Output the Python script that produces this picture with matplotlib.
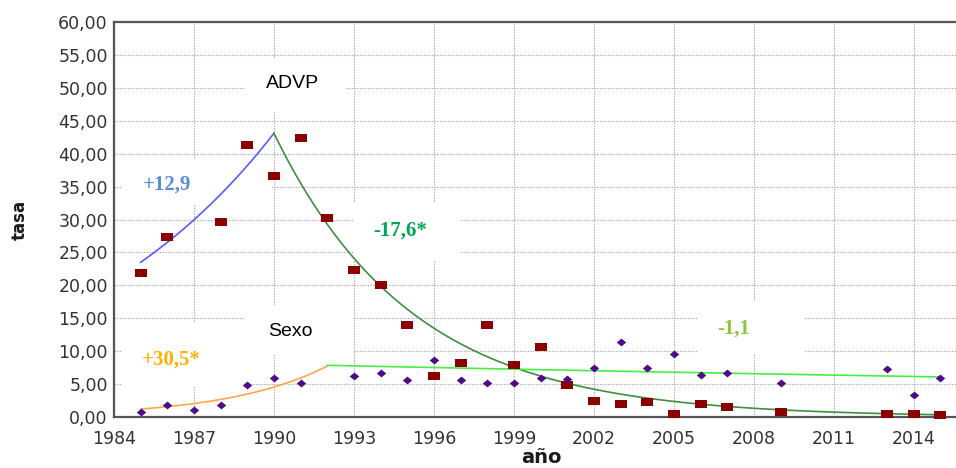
import numpy as np
import matplotlib
matplotlib.use("Agg")
import matplotlib.pyplot as plt
from matplotlib.patches import Rectangle
from matplotlib.path import Path

# ---------------- data ----------------
advp_years = [1985, 1986, 1988, 1989, 1990, 1991, 1992, 1993, 1994, 1995, 1996, 1997,
              1998, 1999, 2000, 2001, 2002, 2003, 2004, 2005, 2006, 2007, 2009, 2013,
              2014, 2015]
advp_rate = [21.8, 27.3, 29.6, 41.3, 36.6, 42.4, 30.2, 22.3, 20.0, 14.0, 6.3, 8.2,
             14.0, 7.9, 10.6, 4.8, 2.4, 2.0, 2.3, 0.5, 1.9, 1.5, 0.8, 0.5,
             0.5, 0.3]

sexo_years = [1985, 1986, 1987, 1988, 1989, 1990, 1991, 1993, 1994, 1995, 1996, 1997,
              1998, 1999, 2000, 2001, 2002, 2003, 2004, 2005, 2006, 2007, 2009, 2013,
              2014, 2015]
sexo_rate = [0.7, 1.8, 1.0, 1.8, 4.8, 6.0, 5.2, 6.3, 6.7, 5.6, 8.6, 5.6,
             5.2, 5.2, 6.0, 5.8, 7.4, 11.4, 7.5, 9.5, 6.4, 6.7, 5.2, 7.3,
             3.4, 5.9]

# joinpoint segments: (start year, end year), value at start, annual % change
advp_seg_span = [(1985, 1990), (1990, 2015)]
advp_seg_start = [23.5, 43.1]
advp_seg_apc = [12.9, -17.6]

sexo_seg_span = [(1985, 1992), (1992, 2015)]
sexo_seg_start = [1.2, 7.85]
sexo_seg_apc = [30.5, -1.1]

apc_labels = ["+12,9", "-17,6*", "+30,5*", "-1,1"]
group_labels = ["ADVP", "Sexo"]
y_ticks = [0, 5, 10, 15, 20, 25, 30, 35, 40, 45, 50, 55, 60]
x_ticks = [1984, 1987, 1990, 1993, 1996, 1999, 2002, 2005, 2008, 2011, 2014]

# ---------------- figure ----------------
W, H = 956, 468
fig = plt.figure(figsize=(W / 100, H / 100), dpi=100)
ax = fig.add_axes([114 / W, 1 - 417 / H, (W - 114) / W, (417 - 22) / H])
px_per_year = 26.66
ax.set_xlim(1984, 1984 + (W - 114) / px_per_year)
ax.set_ylim(0, 60)

ax.set_axisbelow(True)
ax.grid(True, color="#ababab", linestyle=(0, (1.2, 1.2)), linewidth=0.8)
ax.set_xticks(x_ticks)
ax.set_yticks(y_ticks)
ax.set_yticklabels([f"{v:.2f}".replace(".", ",") for v in y_ticks])
ax.tick_params(length=0, labelsize=12.5, labelcolor="#333333")
ax.tick_params(axis="y", pad=4.5)
ax.tick_params(axis="x", pad=9)
for s in ["left", "top", "bottom"]:
    ax.spines[s].set_color("#555555")
    ax.spines[s].set_linewidth(1.6)
ax.spines["right"].set_visible(False)

# white label backgrounds (layout)
boxes = [
    ((1984.3, 32.2), 5.6, 6.8),
    ((1988.9, 46.3), 3.8, 8.2),
    ((1988.9, 9.4), 4.05, 7.6),
    ((1984.3, 4.5), 4.6, 9.9),
    ((1992.95, 23.7), 4.05, 8.8),
    ((2005.9, 9.7), 4.0, 7.7),
]
for (x0, y0), w, h in boxes:
    ax.add_patch(Rectangle((x0, y0), w, h, facecolor="white", edgecolor="none", zorder=1))

# fitted segments
def draw_segments(spans, starts, apcs, colors):
    for (a, b), v0, apc, c in zip(spans, starts, apcs, colors):
        t = np.linspace(a, b, 200)
        ax.plot(t, v0 * (1 + apc / 100.0) ** (t - a), color=c, lw=1.2, zorder=2)

draw_segments(advp_seg_span, advp_seg_start, advp_seg_apc, ["#5a5aff", "#3f8f3f"])
draw_segments(sexo_seg_span, sexo_seg_start, sexo_seg_apc, ["#ffa64d", "#44ee44"])

# markers
rect_marker = Path([(-1.35, -1), (1.35, -1), (1.35, 1), (-1.35, 1), (-1.35, -1)])
diam_marker = Path([(0, 1), (1.2, 0), (0, -1), (-1.2, 0), (0, 1)])
ax.plot(advp_years, advp_rate, linestyle="none", marker=rect_marker, markersize=8,
        color="#8b0000", markeredgewidth=0, zorder=3, clip_on=False)
ax.plot(sexo_years, sexo_rate, linestyle="none", marker=diam_marker, markersize=6.8,
        color="#4f0a8a", markeredgewidth=0, zorder=3, clip_on=False)

# labels
ax.text(1990.68, 50.6, group_labels[0], ha="center", va="center", fontsize=14,
        family="Liberation Sans", color="black", zorder=4)
ax.text(1990.6, 13.0, group_labels[1], ha="center", va="center", fontsize=14,
        family="Liberation Sans", color="black", zorder=4)
serif = dict(family="Liberation Serif", fontweight="bold", fontsize=15, ha="center",
             va="center", zorder=4)
ax.text(1985.99, 35.3, apc_labels[0], color="#5b8dd9", **serif)
ax.text(1994.73, 28.3, apc_labels[1], color="#00a650", **serif)
ax.text(1986.14, 8.7, apc_labels[2], color="#ffb000", **serif)
ax.text(2007.26, 13.4, apc_labels[3], color="#8cc63f", **serif)

fig.text(20 / W, 1 - 220 / H, "tasa", rotation=90, ha="center", va="center",
         fontsize=12, fontweight="bold", color="#1a1a1a")
fig.text(541 / W, 1 - 467 / H, "año", ha="center", va="bottom",
         fontsize=14, fontweight="bold", color="#1a1a1a")

fig.savefig("out.png", dpi=100)
